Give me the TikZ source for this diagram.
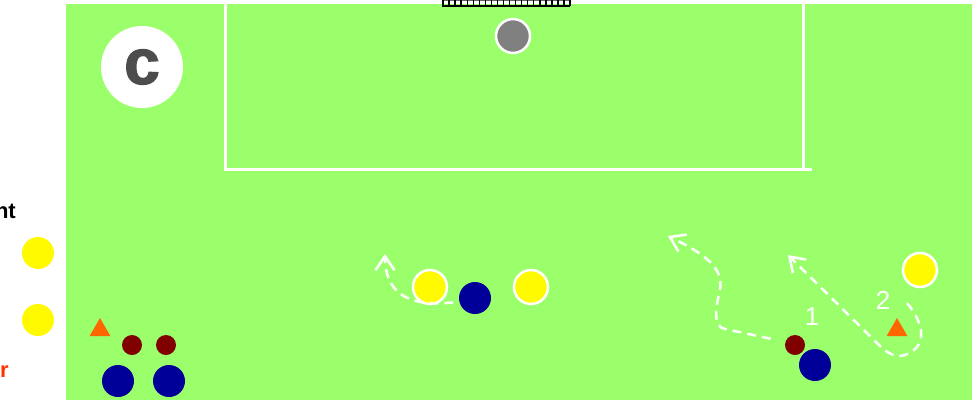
\documentclass[tikz,border=0pt]{standalone}
\usepackage{fontspec}
\setmainfont{Liberation Sans}
\usetikzlibrary{arrows.meta, shapes.geometric, positioning}
\definecolor{pitch}{RGB}{155,255,107}
\definecolor{shirt}{RGB}{255,250,0}
\definecolor{navy}{RGB}{0,0,153}
\definecolor{maroon}{RGB}{128,0,0}
\definecolor{conecol}{RGB}{255,102,0}
\definecolor{ballgray}{RGB}{128,128,128}
\definecolor{badgetxt}{RGB}{77,77,77}
\definecolor{redtxt}{RGB}{255,51,0}

\begin{document}
\begin{tikzpicture}[x=1pt, y=-1pt,
  att/.style={circle, fill=shirt, draw=white, line width=2.5pt, minimum size=34pt, inner sep=0pt},
  attkey/.style={circle, fill=shirt, minimum size=32pt, inner sep=0pt},
  def/.style={circle, fill=navy, minimum size=32pt, inner sep=0pt},
  mini/.style={circle, fill=maroon, minimum size=20pt, inner sep=0pt},
  conemark/.style={regular polygon, regular polygon sides=3, fill=conecol, minimum size=24pt, inner sep=0pt},
  run/.style={-{Straight Barb[length=14pt,width=19pt]}, white, line width=2.5pt, dash pattern=on 9pt off 6pt},
  chalk/.style={white, line width=3.5pt},
  num/.style={text=white, inner sep=0pt, font=\fontsize{26}{26}\selectfont},
  key/.style={anchor=base east, inner sep=0pt, font=\bfseries\fontsize{22}{22}\selectfont}]
  \useasboundingbox (0,0) rectangle (977,400);
  \fill[pitch] (66,4) rectangle (972,400);
  \draw[chalk] (225.5,4) -- (225.5,169.5) -- (812,169.5);
  \draw[chalk] (803.5,4) -- (803.5,169.5);
  \draw[black!60, line width=0.8pt] (442,0.4) -- (570,0.4);
  \draw[black, line width=1.5pt] (442,6) -- (570,6);
  \foreach \i in {0,...,21}
    \draw[black, line width=1.4pt] ({443+\i*6.05},0) -- ++(0,6);
  \node[circle, fill=ballgray, draw=white, line width=2.5pt, minimum size=34pt] (ball) at (513,36) {};
  \node[circle, fill=white, minimum size=82pt, inner sep=0pt, text=badgetxt,
    font=\bfseries\fontsize{64}{64}\selectfont\addfontfeatures{FakeBold=2}] (badge) at (142,67) {c};
  \node[key] (keytop) at (16,218) {nt};
  \node[key, text=redtxt] (keybot) at (9,377) {r};
  \node[attkey] (k1) at (38,253) {};
  \node[attkey] (k2) at (38,320) {};
  \node[conemark] (cl) at (100,330) {};
  \node[mini] (ml1) at (132,345) {};
  \node[mini] (ml2) at (166,345) {};
  \node[def] (dl1) at (118,381) {};
  \node[def] (dl2) at (169,381) {};
  \node[att] (am1) at (430,287) {};
  \node[def] (dm) at (475,298) {};
  \node[att] (am2) at (531,287) {};
  \node[mini] (mr) at (795,345) {};
  \node[def] (dr) at (815,365) {};
  \node[conemark] (cr) at (897,330) {};
  \node[att] (ar) at (920,270) {};
  \node[num] (n1) at (812,317) {1};
  \node[num] (n2) at (883,300) {2};
  \coordinate (tipA) at (385,254);
  \coordinate (tipB) at (668,236);
  \coordinate (tipC) at (788,255);
  \coordinate (startC) at (907,303);
  \draw[run, shorten <=6pt] (dm.193) .. controls (405,308) and (385,290) .. (tipA);
  \draw[run, shorten <=15pt] (mr.162) -- (725,329) .. controls (712,327) and (716,305) .. (720,290)
    .. controls (724,268) and (705,254) .. (tipB);
  \draw[run] (startC) .. controls (920,318) and (932,345) .. (905,355)
    .. controls (893,359) and (884,350) .. (876,342) -- (tipC);
\end{tikzpicture}
\end{document}
